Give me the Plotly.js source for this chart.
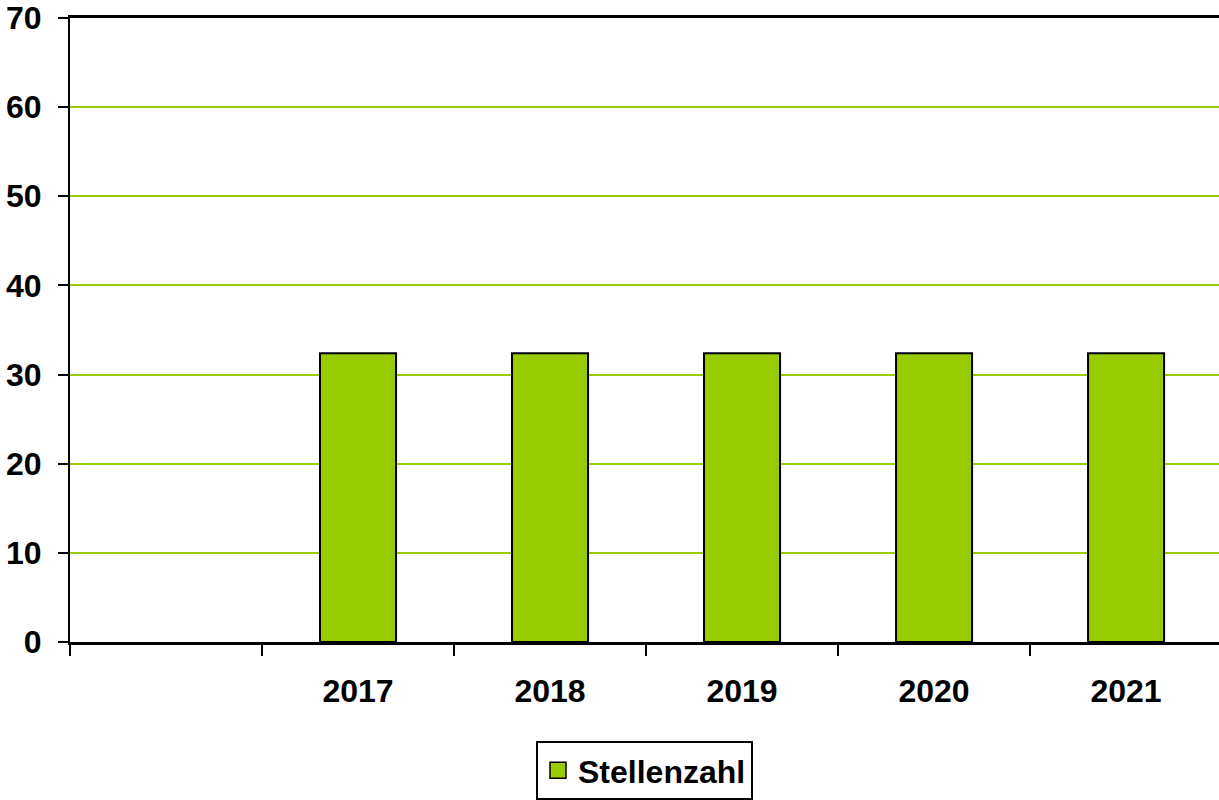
<!DOCTYPE html>
<html>
<head>
<meta charset="utf-8">
<script src="https://cdn.plot.ly/plotly-3.0.1.min.js"></script>
<style>html,body{margin:0;padding:0;background:#fff;}#chart{width:1219px;height:800px;}</style>
</head>
<body>
<div id="chart"></div>
<script>
const categories = [" ", "2017", "2018", "2019", "2020", "2021"];
const stellenzahl = [null, 32.4, 32.4, 32.4, 32.4, 32.4];
const seriesName = "Stellenzahl";
const yTicks = [0, 10, 20, 30, 40, 50, 60, 70];

const font = {family: "Liberation Sans, Arial, sans-serif", size: 32, color: "#000"};
const green = "#99cc00";

const barTrace = {
  type: "bar",
  x: categories,
  y: stellenzahl,
  name: seriesName,
  marker: {color: green, line: {color: "#000", width: 2}},
  showlegend: false,
  hoverinfo: "skip"
};

// legend-only entry with a larger square symbol
const legendTrace = {
  type: "scatter",
  mode: "markers",
  x: [categories[1]],
  y: [null],
  name: seriesName,
  marker: {symbol: "square", size: 16, color: green, line: {color: "#000", width: 1.5}},
  showlegend: true,
  hoverinfo: "skip"
};

const layout = {
  width: 1219,
  height: 800,
  margin: {l: 70, r: 0, t: 18, b: 157, pad: 0},
  paper_bgcolor: "#fff",
  plot_bgcolor: "#fff",
  bargap: 0.604,
  font: font,
  xaxis: {
    type: "category",
    categoryorder: "array",
    categoryarray: categories,
    range: [-0.5, 5.484],
    tickson: "boundaries",
    ticks: "outside",
    ticklen: 11,
    tickwidth: 2,
    tickcolor: "#000",
    showline: true,
    linecolor: "#000",
    linewidth: 3,
    mirror: true,
    showgrid: false,
    zeroline: false,
    tickfont: {family: font.family, size: 32, color: "#000", weight: "bold"},
    ticklabelstandoff: 19,
    fixedrange: true
  },
  yaxis: {
    range: [0, 70],
    tickvals: yTicks,
    ticktext: yTicks.map(String),
    ticks: "outside",
    ticklen: 10,
    tickwidth: 2,
    tickcolor: "#000",
    showline: true,
    linecolor: "#000",
    linewidth: 2,
    showgrid: true,
    gridcolor: green,
    gridwidth: 2,
    zeroline: false,
    tickfont: {family: font.family, size: 32, color: "#000", weight: "bold"},
    ticklabelstandoff: 10,
    fixedrange: true
  },
  legend: {
    orientation: "h",
    x: 0.5,
    xanchor: "center",
    y: -0.158,
    yanchor: "top",
    bordercolor: "#000",
    borderwidth: 2,
    bgcolor: "#fff",
    font: {family: font.family, size: 32, color: "#000", weight: "bold"},
    itemwidth: 30
  },
  showlegend: true
};

Plotly.newPlot("chart", [barTrace, legendTrace], layout, {displayModeBar: false, staticPlot: true});
</script>
</body>
</html>
